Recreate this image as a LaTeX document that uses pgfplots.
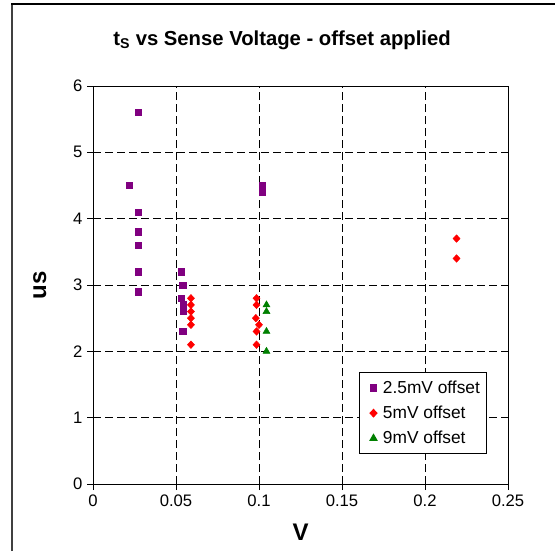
\documentclass[border=0pt]{standalone}
\usepackage{fontspec}
\setmainfont{Liberation Sans}
\usepackage{pgfplots}
\pgfplotsset{compat=1.18}

\definecolor{xlpurple}{RGB}{128,0,128}
\definecolor{xlred}{RGB}{255,0,0}
\definecolor{xlgreen}{RGB}{0,128,0}

\begin{document}
\begin{tikzpicture}
% picture laid out in px of the reference (1px = 0.75pt)
\begin{scope}[x=0.75pt,y=0.75pt]
  \useasboundingbox (0,0) rectangle (555,551);
  \draw[line width=1.5pt, black!75] (12,0) -- (12,547.5);
  \draw[line width=1pt] (11.25,547) -- (555,547);
  \node[font=\bfseries\fontsize{15.2}{17}\selectfont] at (282,511)
    {t\textsubscript{S} vs Sense Voltage - offset applied};
\end{scope}
\begin{axis}[
    at={(69.75pt,50.25pt)}, anchor=south west,
    scale only axis,
    width=311.25pt, height=298.5pt,
    xmin=0, xmax=0.25,
    ymin=0, ymax=6,
    xtick={0,0.05,0.1,0.15,0.2,0.25},
    ytick={0,1,2,3,4,5,6},
    scaled x ticks=false,
    xticklabel style={/pgf/number format/fixed,/pgf/number format/precision=2},
    /pgf/number format/assume math mode=true,
    ticklabel style={font=\fontsize{12.5}{14}\selectfont},
    tick pos=left,
    tick align=outside,
    major tick length=4.5pt,
    tick style={black, line width=0.75pt},
    axis line style={line width=0.75pt},
    grid=major,
    major grid style={black, line width=0.6pt, dash pattern=on 6pt off 3pt},
    xlabel={V}, ylabel={us},
    label style={font=\bfseries\fontsize{18}{20}\selectfont},
    xlabel style={at={(axis description cs:0.5,-0.1206)}, anchor=center},
    ylabel style={at={(axis description cs:-0.128,0.5)}, anchor=center},
    legend style={at={(axis description cs:0.641,0.281)}, anchor=north west,
      draw=black, line width=0.75pt, font=\fontsize{13}{15}\selectfont,
      row sep=4pt, inner xsep=3pt, inner ysep=4pt},
    legend cell align=left,
    legend image code/.code={%
      \path (-0.25cm,0) (0.165cm,0);
      \draw[#1] plot coordinates {(0cm,0cm)};},
]
\addplot[only marks, mark=square*, mark size=2.4pt, color=xlpurple] coordinates {
    (0.0217,4.5) (0.0271,5.6) (0.0271,4.1) (0.0271,3.8) (0.0271,3.6)
    (0.0271,3.2) (0.0271,2.9)
    (0.0533,3.2) (0.0540,3.0) (0.0533,2.8) (0.0545,2.7) (0.0545,2.65)
    (0.0545,2.6) (0.0540,2.3)
    (0.1018,4.5) (0.1018,4.45) (0.1018,4.4)
};
\addlegendentry{2.5mV offset}
\addplot[only marks, mark=diamond*, mark size=2.8pt, color=xlred,
    mark options={xscale=1.25}] coordinates {
    (0.0590,2.8) (0.0590,2.7) (0.0590,2.6) (0.0590,2.5) (0.0590,2.4) (0.0590,2.1)
    (0.0985,2.8) (0.0985,2.7) (0.0981,2.5) (0.1000,2.4) (0.0985,2.3) (0.0985,2.1)
    (0.2190,3.7) (0.2190,3.4)
};
\addlegendentry{5mV offset}
\addplot[only marks, mark=triangle*, mark size=3pt, color=xlgreen] coordinates {
    (0.1045,2.7) (0.1045,2.6) (0.1045,2.3) (0.1045,2.0)
};
\addlegendentry{9mV offset}
\end{axis}
\end{tikzpicture}
\end{document}
